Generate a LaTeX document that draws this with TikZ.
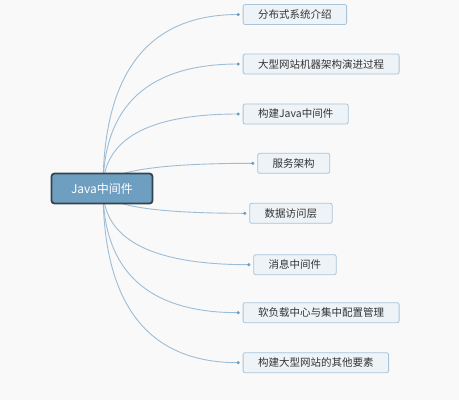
\documentclass[tikz,border=0pt]{standalone}
\usepackage{fontspec}
\newfontfamily\cjk{Noto Sans CJK SC}
\usetikzlibrary{positioning,calc}
\definecolor{bgcol}{HTML}{F9F9F9}
\definecolor{rootfill}{HTML}{6F9FC0}
\definecolor{rootline}{HTML}{34444F}
\definecolor{boxfill}{HTML}{EEF3F8}
\definecolor{boxline}{HTML}{A9C4DA}
\definecolor{linkcol}{HTML}{9DBDD6}
\definecolor{dotcol}{HTML}{6A9CC0}
\definecolor{txtcol}{HTML}{333333}

\tikzset{
  topic/.style={draw=boxline,fill=boxfill,rounded corners=2pt,line width=0.8pt,
    minimum height=20pt,inner xsep=15pt,inner ysep=0pt,anchor=west,text=txtcol,
    font=\cjk\fontsize{10.5}{12}\selectfont},
  root/.style={draw=rootline,fill=rootfill,rounded corners=3pt,line width=1.8pt,
    minimum width=101pt,minimum height=30pt,text=white,
    font=\cjk\fontsize{12}{14}\selectfont},
  link/.style={draw=linkcol,line width=0.9pt,
    to path={.. controls ($(\tikztostart)!2/3!(\tikztostart |- \tikztotarget)$)
      and ($(\tikztotarget)!2/3!(\tikztostart |- \tikztotarget)$) .. (\tikztotarget)}},
  knob/.style={fill=dotcol}
}

\begin{document}
\begin{tikzpicture}[x=1pt,y=-1pt]
\fill[bgcol] (0,0) rectangle (459,400);
% sub topics
\node[topic] (t1) at (242.7,14.5) {分布式系统介绍};
\node[topic] (t2) at (242.7,64) {大型网站机器架构演进过程};
\node[topic] (t3) at (242.7,114) {构建Java中间件};
\node[topic] (t4) at (257.3,163.3) {服务架构};
\node[topic] (t5) at (249.3,213.3) {数据访问层};
\node[topic] (t6) at (253.3,264.7) {消息中间件};
\node[topic] (t7) at (242.7,312.7) {软负载中心与集中配置管理};
\node[topic] (t8) at (242.7,362.7) {构建大型网站的其他要素};
% ends of the links
\coordinate (d1) at ([xshift=-4.5pt]t1.west);
\coordinate (d2) at ([xshift=-4.5pt]t2.west);
\coordinate (d3) at ([xshift=-4.5pt]t3.west);
\coordinate (d4) at ([xshift=-4.5pt]t4.west);
\coordinate (d5) at ([xshift=-4.5pt]t5.west);
\coordinate (d6) at ([xshift=-4.5pt]t6.west);
\coordinate (d7) at ([xshift=-4.5pt]t7.west);
\coordinate (d8) at ([xshift=-4.5pt]t8.west);
\coordinate (hub) at (103,189);
% links
\draw[link] (hub) to (d1);
\draw[link] (hub) to (d2);
\draw[link] (hub) to (d3);
\draw[link] (hub) to (d4);
\draw[link] (hub) to (d5);
\draw[link] (hub) to (d6);
\draw[link] (hub) to (d7);
\draw[link] (hub) to (d8);
\fill[knob] (d1) circle (1.7pt);
\fill[knob] (d2) circle (1.7pt);
\fill[knob] (d3) circle (1.7pt);
\fill[knob] (d4) circle (1.7pt);
\fill[knob] (d5) circle (1.7pt);
\fill[knob] (d6) circle (1.7pt);
\fill[knob] (d7) circle (1.7pt);
\fill[knob] (d8) circle (1.7pt);
% main topic
\node[root] (main) at (102,188.5) {Java中间件};
\end{tikzpicture}
\end{document}
